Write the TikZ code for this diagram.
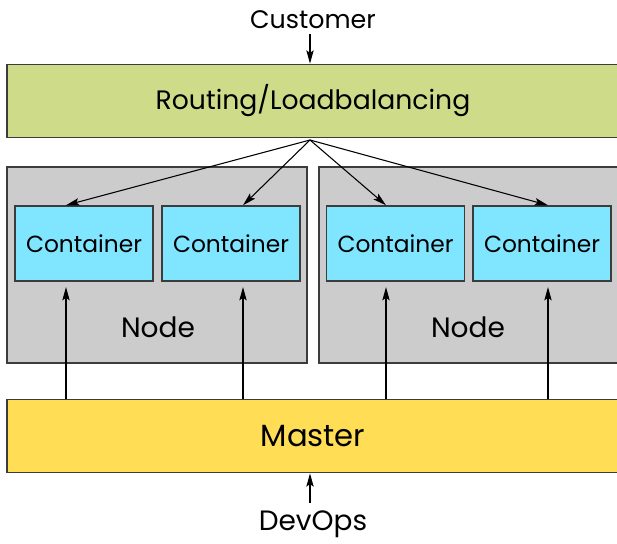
\documentclass[tikz,border=0pt]{standalone}
\usepackage{fontspec}
\setmainfont{Poppins}
\usetikzlibrary{arrows.meta}

\definecolor{lbgreen}{RGB}{206,220,138}
\definecolor{nodegray}{RGB}{204,204,204}
\definecolor{boxcyan}{RGB}{128,229,255}
\definecolor{mastergold}{RGB}{255,221,85}
\definecolor{edgegray}{RGB}{60,60,60}

\begin{document}
\begin{tikzpicture}[x=0.75pt,y=-0.75pt,>={Stealth[length=10pt,width=5.5pt,inset=2pt]},
  bar/.style={draw=edgegray,line width=1.3pt,minimum width=612*0.75pt,minimum height=73*0.75pt,inner sep=0pt},
  hostbox/.style={draw=edgegray,fill=nodegray,line width=1.1pt,minimum width=300*0.75pt,minimum height=196*0.75pt,inner sep=0pt},
  ctbox/.style={draw=edgegray,fill=boxcyan,line width=1.1pt,minimum width=138*0.75pt,minimum height=75*0.75pt,inner sep=0pt,font=\fontsize{17.5}{20}\selectfont},
  lbl/.style={font=\fontsize{19}{22}\selectfont},
  link/.style={->,line width=0.8pt}]

\useasboundingbox (0,0) rectangle (617,543);

\node[lbl] (cust) at (313,20) {Customer};
\node[bar,fill=lbgreen,font=\fontsize{20}{24}\selectfont] (lb) at (313,101) {Routing/Loadbalancing};

\node[hostbox] (h1) at (157,265) {};
\node[hostbox] (h2) at (469,265) {};
\node[lbl,font=\fontsize{21}{24}\selectfont] at (158,327) {Node};
\node[lbl,font=\fontsize{21}{24}\selectfont] at (468,327) {Node};

\node[ctbox] (c1) at (84,243.5)  {Container};
\node[ctbox] (c2) at (231,243.5) {Container};
\node[ctbox] (c3) at (395.5,243.5) {Container};
\node[ctbox] (c4) at (542,243.5) {Container};

\node[bar,fill=mastergold,font=\fontsize{23}{26}\selectfont] (m) at (313,436) {Master};
\node[lbl,font=\fontsize{21}{24}\selectfont] (dev) at (313,524) {DevOps};

% one column per container
\coordinate (k1) at (66,0);
\coordinate (k2) at (243,0);
\coordinate (k3) at (386,0);
\coordinate (k4) at (548,0);
\coordinate (hub) at (310,140);

\draw[link] (cust.south -| hub) -- (lb.north -| hub);
\foreach \i in {1,...,4}{
  \draw[link] (hub) -- (c\i.north -| k\i);
  \draw[link,shorten >=4pt] (m.north -| k\i) -- (c\i.south -| k\i);
}
\draw[link,shorten <=2pt] (dev.north -| hub) -- (m.south -| hub);

\end{tikzpicture}
\end{document}
